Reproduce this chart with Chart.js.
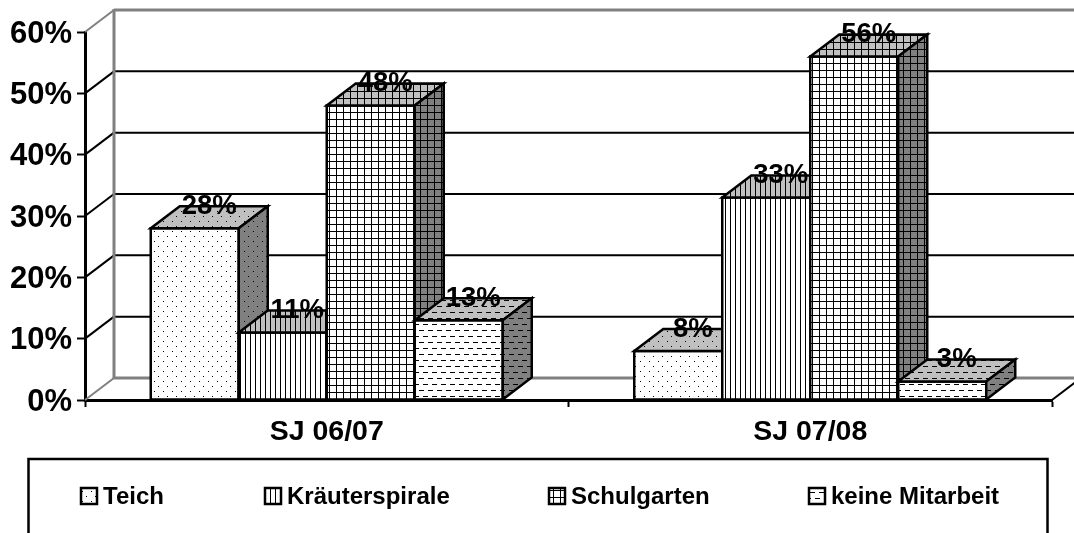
<!DOCTYPE html>
<html><head><meta charset="utf-8">
<style>html,body{margin:0;padding:0;background:#fff;overflow:hidden}canvas{display:block}</style>
<script src="https://cdn.jsdelivr.net/npm/chart.js@4"></script>
</head><body>
<canvas id="c" width="1074" height="533"></canvas>
<script>
const categories = ['SJ 06/07', 'SJ 07/08'];
const seriesNames = ['Teich', 'Kräuterspirale', 'Schulgarten', 'keine Mitarbeit'];
const teich = [28, 8];
const kraeuterspirale = [11, 33];
const schulgarten = [48, 56];
const keineMitarbeit = [13, 3];
const seriesValues = [teich, kraeuterspirale, schulgarten, keineMitarbeit];
const legendX = [80, 264, 548, 808];

const FONT = '"Liberation Sans", Arial, sans-serif';
const DEPTH_X = 29, DEPTH_Y = 22;

function makePattern(w, h, bg, paint) {
  const p = document.createElement('canvas');
  p.width = w; p.height = h;
  const g = p.getContext('2d');
  if (bg) { g.fillStyle = bg; g.fillRect(0, 0, w, h); }
  g.fillStyle = '#000';
  paint(g);
  return document.createElement('canvas').getContext('2d').createPattern(p, 'repeat');
}
const painters = [
  g => { g.fillRect(1, 1, 1, 1); g.fillRect(5, 6, 1, 1); },
  g => { g.fillRect(0, 0, 1, 5); },
  g => { g.fillRect(0, 0, 7, 1); g.fillRect(0, 0, 1, 7); },
  g => { g.fillRect(0, 0, 5, 1); g.fillRect(5, 6, 4, 1); g.fillRect(0, 6, 1, 1); }
];
const sizes = [[9, 10], [5, 5], [7, 7], [9, 12]];
const frontPatterns = painters.map((f, i) => makePattern(sizes[i][0], sizes[i][1], '#fff', f));
const topPatterns = painters.map((f, i) => makePattern(sizes[i][0], sizes[i][1], '#c0c0c0', f));
const sidePatterns = painters.map((f, i) => makePattern(sizes[i][0], sizes[i][1], '#808080', f));

function poly(ctx, pts, fill) {
  ctx.beginPath();
  pts.forEach((p, i) => i ? ctx.lineTo(p[0], p[1]) : ctx.moveTo(p[0], p[1]));
  ctx.closePath();
  if (fill) { ctx.fillStyle = fill; ctx.fill(); }
  ctx.strokeStyle = '#000'; ctx.lineWidth = 2.5; ctx.lineJoin = 'miter'; ctx.stroke();
}
function line(ctx, x1, y1, x2, y2, color, w) {
  ctx.beginPath(); ctx.moveTo(x1, y1); ctx.lineTo(x2, y2);
  ctx.strokeStyle = color; ctx.lineWidth = w; ctx.stroke();
}

const wallPlugin = {
  id: 'wall',
  beforeDatasetsDraw(chart) {
    const { ctx, scales: { y }, chartArea: a, width } = chart;
    ctx.save();
    const top = y.getPixelForValue(y.max) - DEPTH_Y, floor = y.getPixelForValue(0) - DEPTH_Y;
    y.ticks.forEach(t => {
      const py = y.getPixelForValue(t.value);
      const grey = t.value === y.min || t.value === y.max;
      const color = grey ? '#808080' : '#000';
      const w = grey ? 3 : 2;
      line(ctx, a.left, py, a.left + DEPTH_X, py - DEPTH_Y, color, 2);
      line(ctx, a.left + DEPTH_X, py - DEPTH_Y, width, py - DEPTH_Y, color, w);
    });
    line(ctx, a.left + DEPTH_X, top - 1, a.left + DEPTH_X, floor + 1, '#808080', 3);
    line(ctx, a.right, a.bottom, a.right + DEPTH_X, a.bottom - DEPTH_Y, '#000', 2);
    ctx.restore();
  },
  beforeDatasetDraw() { return false; },
  afterDatasetsDraw(chart) {
    const { ctx } = chart;
    ctx.save();
    chart.data.datasets.forEach((ds, i) => {
      const meta = chart.getDatasetMeta(i);
      meta.controller.draw();
      meta.data.forEach(bar => {
        const { x, y, base, width } = bar.getProps(['x', 'y', 'base', 'width'], true);
        const l = x - width / 2, r = x + width / 2;
        poly(ctx, [[l, y], [r, y], [r, base], [l, base]], null);
        poly(ctx, [[l, y], [l + DEPTH_X, y - DEPTH_Y], [r + DEPTH_X, y - DEPTH_Y], [r, y]], topPatterns[i]);
        poly(ctx, [[r, y], [r + DEPTH_X, y - DEPTH_Y], [r + DEPTH_X, base - DEPTH_Y], [r, base]], sidePatterns[i]);
      });
    });
    ctx.fillStyle = '#000';
    ctx.font = 'bold 27.5px ' + FONT;
    ctx.textAlign = 'center'; ctx.textBaseline = 'middle';
    chart.data.datasets.forEach((ds, i) => {
      chart.getDatasetMeta(i).data.forEach((bar, j) => {
        const { x, y } = bar.getProps(['x', 'y'], true);
        ctx.fillText(ds.data[j] + '%', x + DEPTH_X / 2, y - DEPTH_Y);
      });
    });
    // legend
    ctx.strokeStyle = '#000'; ctx.lineWidth = 2.5;
    ctx.strokeRect(28.5, 459, 1019, 200);
    ctx.font = 'bold 24px ' + FONT;
    ctx.textAlign = 'left'; ctx.textBaseline = 'alphabetic';
    seriesNames.forEach((n, i) => {
      ctx.fillStyle = frontPatterns[i];
      ctx.fillRect(legendX[i] + 1, 488, 16, 16);
      ctx.lineWidth = 2.5;
      ctx.strokeRect(legendX[i] + 1, 488, 16, 16);
      ctx.fillStyle = '#000';
      ctx.fillText(n, legendX[i] + 23, 504);
    });
    ctx.restore();
  }
};

new Chart(document.getElementById('c'), {
  type: 'bar',
  data: {
    labels: categories,
    datasets: seriesNames.map((n, i) => ({
      label: n,
      data: seriesValues[i],
      backgroundColor: frontPatterns[i],
      borderWidth: 0,
      categoryPercentage: 0.728,
      barPercentage: 1
    }))
  },
  options: {
    responsive: false,
    animation: false,
    devicePixelRatio: 1,
    layout: { padding: { top: 32, bottom: 83, left: 0, right: 22 } },
    plugins: { legend: { display: false }, tooltip: { enabled: false } },
    scales: {
      x: {
        afterFit(s) { s.height = 50; },
        grid: { drawOnChartArea: false, drawTicks: true, tickLength: 7, tickColor: '#000', tickWidth: 2, color: '#000' },
        border: { color: '#000', width: 3 },
        ticks: { color: '#000', font: { family: FONT, size: 28.5, weight: 'bold' }, padding: 8, maxRotation: 0 }
      },
      y: {
        min: 0, max: 60,
        afterFit(s) { s.width = 85; },
        grid: { drawOnChartArea: false, drawTicks: true, tickLength: 8, tickColor: '#000', tickWidth: 2 },
        border: { color: '#000', width: 3 },
        ticks: { stepSize: 10, color: '#000', font: { family: FONT, size: 31, weight: 'bold' }, padding: 5, labelOffset: 2, callback: v => v + '%' }
      }
    }
  },
  plugins: [wallPlugin]
});
</script>
</body></html>
